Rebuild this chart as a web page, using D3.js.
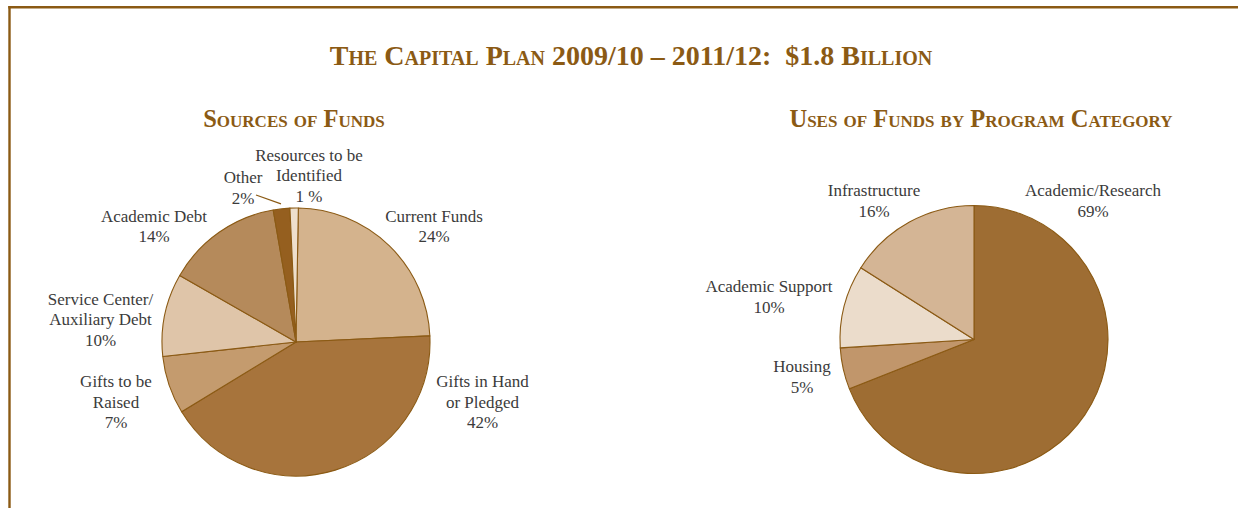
<!DOCTYPE html>
<html><head><meta charset="utf-8">
<script src="https://cdn.jsdelivr.net/npm/d3@7"></script>
<style>
html,body{margin:0;padding:0;background:#fff;}
svg{display:block;}
</style></head>
<body>
<svg id="c" width="1238" height="508"></svg>
<script>
// ---- data ----
const titleText = "The Capital Plan 2009/10 – 2011/12:  $1.8 Billion";
const sourcesTitle = "Sources of Funds";
const usesTitle = "Uses of Funds by Program Category";

const sourcesCategories = ["Current Funds", "Gifts in Hand or Pledged", "Gifts to be Raised", "Service Center/ Auxiliary Debt", "Academic Debt", "Other", "Resources to be Identified"];
const sourcesValues = [24, 42, 7, 10, 14, 2, 1];
const sourcesLabelLines = [["Current Funds", "24%"], ["Gifts in Hand", "or Pledged", "42%"], ["Gifts to be", "Raised", "7%"], ["Service Center/", "Auxiliary Debt", "10%"], ["Academic Debt", "14%"], ["Other", "2%"], ["Resources to be", "Identified", "1 %"]];

const usesCategories = ["Academic/Research", "Housing", "Academic Support", "Infrastructure"];
const usesValues = [69, 5, 10, 16];
const usesLabelLines = [["Academic/Research", "69%"], ["Housing", "5%"], ["Academic Support", "10%"], ["Infrastructure", "16%"]];

// ---- styles / layout ----
const brown = "#8B5A14";
const textColor = "#3b3b3b";
const sourcesColors = ["#D4B38D", "#A7743C", "#C49B6E", "#DFC5A9", "#B58A5B", "#955F1F", "#EEDFCC"];
const usesColors = ["#9E6D33", "#C1966B", "#EBDCCB", "#D4B595"];
const sourcesLabelPos = [[434, 221.5], [482.5, 387], [116, 387], [100.5, 304.5], [154, 221.5], [243, 183], [309, 160.5]];
const usesLabelPos = [[1093, 196], [802, 372], [769, 292], [874, 196]];
const lineH = 20.7;
const sourcesStartOffset = 1 * Math.PI / 180;

const svg = d3.select("#c");
const serif = "'Liberation Serif', 'DejaVu Serif', serif";

// frame
svg.append("line").attr("x1", 8.3).attr("x2", 1238).attr("y1", 7.2).attr("y2", 7.2)
  .attr("stroke", brown).attr("stroke-width", 2.4);
svg.append("line").attr("x1", 9.5).attr("x2", 9.5).attr("y1", 6).attr("y2", 508)
  .attr("stroke", brown).attr("stroke-width", 2.4);

// titles
function heading(txt, x, y, size) {
  svg.append("text").attr("x", x).attr("y", y).attr("text-anchor", "middle")
    .attr("font-family", serif).attr("font-weight", "bold").attr("font-size", size)
    .style("font-variant", "small-caps").style("white-space", "pre")
    .attr("fill", brown).text(txt);
}
heading(titleText, 631, 65, 28);
heading(sourcesTitle, 294, 127, 24.5);
heading(usesTitle, 981, 127, 24.5);

function drawPie(cx, cy, r, values, colors, offset) {
  const pie = d3.pie().sort(null).value(d => d)
    .startAngle(offset).endAngle(offset + 2 * Math.PI)(values);
  const arc = d3.arc().innerRadius(0).outerRadius(r);
  const g = svg.append("g").attr("transform", `translate(${cx},${cy})`);
  g.selectAll("path").data(pie).join("path")
    .attr("d", arc).attr("fill", (d, i) => colors[i])
    .attr("stroke", brown).attr("stroke-width", 1.1).attr("stroke-linejoin", "round");
  return { pie, arc, g };
}

function drawLabels(lines, pos) {
  lines.forEach((ls, i) => {
    const t = svg.append("text").attr("text-anchor", "middle")
      .attr("font-family", serif).attr("font-size", 17).attr("fill", textColor);
    ls.forEach((l, j) => {
      t.append("tspan").attr("x", pos[i][0]).attr("y", pos[i][1] + j * lineH).text(l);
    });
  });
}

const left = drawPie(296, 342, 134, sourcesValues, sourcesColors, sourcesStartOffset);
const right = drawPie(974, 339.5, 134, usesValues, usesColors, 0);
drawLabels(sourcesLabelLines, sourcesLabelPos);
drawLabels(usesLabelLines, usesLabelPos);

// leader line for "Other"
const otherArc = left.pie[5];
const mid = (otherArc.startAngle + otherArc.endAngle) / 2;
const ex = 296 + Math.sin(mid) * 139, ey = 342 - Math.cos(mid) * 139;
svg.append("line").attr("x1", 256).attr("y1", 195).attr("x2", ex).attr("y2", ey)
  .attr("stroke", brown).attr("stroke-width", 1.3);
</script>
</body></html>
